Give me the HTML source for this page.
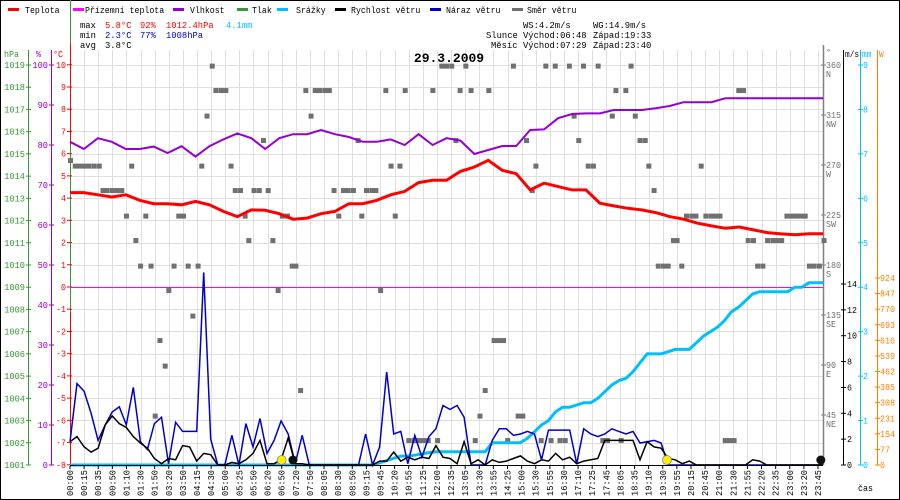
<!DOCTYPE html>
<html><head><meta charset="utf-8"><style>
html,body{margin:0;padding:0;background:#fff;}
svg{display:block;font-family:"Liberation Mono",monospace;}
</style></head><body>
<svg id="chart" width="900" height="500" viewBox="0 0 900 500" xmlns="http://www.w3.org/2000/svg"></svg>
<script>
// ---- data ----
const timeLabels=["00:00","00:15","00:35","00:50","01:10","01:30","01:50","03:20","03:50","04:15","04:30","05:00","05:25","05:50","06:20","06:50","07:20","07:50","08:05","08:30","08:50","09:15","09:45","10:20","10:55","11:25","12:00","12:35","13:05","13:30","13:55","14:25","15:00","15:30","15:55","16:30","17:10","17:25","17:45","18:05","18:35","19:10","19:30","19:55","20:15","20:45","21:00","21:30","21:55","22:20","22:35","23:00","23:20","23:45"];
const tempValues=[4.25,4.25,4.15,4.05,4.15,3.9,3.75,3.75,3.7,3.85,3.7,3.4,3.17,3.47,3.45,3.3,3.05,3.1,3.3,3.4,3.75,3.75,3.9,4.15,4.3,4.7,4.8,4.8,5.2,5.4,5.7,5.25,5.1,4.37,4.67,4.52,4.37,4.37,3.77,3.65,3.54,3.47,3.35,3.17,3.05,2.87,2.75,2.64,2.7,2.57,2.45,2.39,2.35,2.4,2.4];
const humidityValues=[80.8,79,81.7,80.8,79,79,79.6,78,79.7,77.1,79.7,81.4,82.9,81.7,79,81.7,82.7,82.7,83.75,82.7,82,80.8,80.8,81.4,80,82.7,80,81.7,81.1,77.75,78.75,79.75,79.75,83.75,83.9,86.7,87.75,87.9,87.9,88.75,88.75,88.75,89.2,89.75,90.7,90.7,90.7,91.7,91.7,91.7,91.7,91.7,91.7,91.7,91.7];
const gustValues=[1.8,6.3,5.7,4.0,1.9,3.1,4.1,4.5,3.1,6.0,1.8,1.2,3.2,3.7,0.1,3.3,2.6,2.6,2.6,14.9,2.0,0,0,2.3,0,3.2,1.4,3.6,0.9,1.9,3.4,2.4,0.1,2.3,0,0,0,0,0,0,0,0,2.4,0,1.4,7.2,2.4,2.6,0.1,2.3,0.6,2.2,2.8,4.6,4.3,4.6,3.7,0,0,0,1.9,2.8,2.8,2.3,2.4,2.6,2.4,0.4,2.7,2.7,2.7,2.7,0.1,2.8,2.4,2.2,2.4,2.8,2.6,2.4,2.6,1.7,1.8,1.9,1.7,0,0,0,0,0,0,0,0,0,0,0,0,0,0,0,0,0,0,0,0,0,0,0];
const speedValues=[1.8,2.2,1.4,1.0,1.3,3.1,3.8,3.2,2.9,2.2,1.7,1.3,0.5,0.1,0.5,0.4,1.5,1.4,0.3,0.9,0.8,0,0,0.2,0.1,0.4,0.9,1.9,0.1,0.1,0.4,2.1,0.1,0.1,0,0,0,0,0,0,0,0,0,0,0.3,0.3,1.0,0.3,0.6,0.4,0.6,0.5,1.5,0.6,0.5,0.1,1.8,0.1,0.4,0,0.4,0.2,0.3,0.5,0.7,0.3,0.1,0.4,0.3,0.9,0.4,0.6,0.1,0.3,0.4,0.5,1.9,1.9,1.9,1.9,1.9,0.4,1.8,1.4,1.3,0.5,0.4,0.1,0.3,0,0,0,0,0,0,0,0,0.4,0.3,0,0,0,0,0,0,0,0,0];
const rainValues=[0,0,0,0,0,0,0,0,0,0,0,0,0,0,0,0,0,0,0,0,0,0,0,0,0,0,0,0,0,0,0,0,0,0,0,0,0,0,0,0,0,0,0,0,0.05,0.1,0.15,0.2,0.2,0.22,0.25,0.28,0.3,0.3,0.3,0.3,0.3,0.3,0.3,0.3,0.5,0.5,0.5,0.5,0.5,0.6,0.75,0.9,1.0,1.2,1.3,1.3,1.35,1.4,1.4,1.5,1.65,1.8,1.9,1.95,2.1,2.3,2.5,2.5,2.5,2.55,2.6,2.6,2.6,2.75,2.9,3.0,3.1,3.25,3.45,3.55,3.7,3.85,3.9,3.9,3.9,3.9,3.9,4.0,4.0,4.1,4.1,4.1];
const dirMinutes=[1,10,18,27,36,46,56,63,71,81,90,99,108,118,126,135,145,155,163,172,182,189,199,208,217,226,235,245,252,262,272,279,289,298,308,316,326,335,342,352,362,370,379,388,398,406,416,425,432,441,451,461,469,478,488,496,505,514,523,532,542,551,558,567,577,585,594,604,614,622,631,641,648,658,667,676,685,694,703,711,720,730,738,746,757,767,775,784,794,801,811,820,829,837,848,857,866,873,884,891,901,910,920,928,937,947,955,964,973,982,991,1001,1010,1019,1028,1037,1044,1054,1063,1073,1081,1090,1100,1107,1117,1125,1135,1144,1154,1161,1170,1179,1189,1197,1207,1216,1226,1235,1243,1253,1262,1270,1279,1288,1297,1307,1315,1325,1334,1344,1353,1361,1371,1380,1388,1397,1406,1414,1423,1433,1442];
const dirDegrees=[274,269,269,269,269,269,269,247,247,247,247,247,224,269,202,179,224,179,44,112,89,157,179,224,224,179,134,179,269,314,359,337,337,337,269,247,247,224,202,247,247,292,247,202,157,224,224,179,179,67,337,314,337,337,337,337,247,224,247,247,247,292,224,247,247,247,157,337,269,224,269,337,22,22,22,22,22,337,22,359,359,359,292,337,359,337,22,44,67,337,112,112,112,22,359,44,44,292,247,269,22,359,22,359,22,22,359,314,292,359,269,269,359,22,22,314,337,22,337,359,314,292,292,269,247,179,179,179,202,202,179,224,224,224,269,224,224,224,224,22,22,22,337,337,202,202,179,179,202,202,202,202,224,224,224,224,224,179,179,179,202];
const hpaTicks=[1019,1018,1017,1016,1015,1014,1013,1012,1011,1010,1009,1008,1007,1006,1005,1004,1003,1002,1001];
const pctTicks=[100,90,80,70,60,50,40,30,20,10,0];
const degCTicks=[10,9,8,7,6,5,4,3,2,1,0,-1,-2,-3,-4,-5,-6,-7,-8];
const dirTicks=[360,315,270,225,180,135,90,45];
const dirNames=["N","NW","W","SW","S","SE","E","NE"];
const msTicks=[0,2,4,6,8,10,12,14];
const mmTicks=[0,1,2,3,4,5,6,7,8,9];
const wTicks=[0,77,154,231,308,385,462,539,616,693,770,847,924];
const sunCat=[15,42.3];
const moonCat=[15.8,53.2];

// ---- scales ----
const X0=70,X1=823,YB=465,YT=50;
const xCat=k=>X0+k*(748/53);
const xSeries=(i,n)=>X0+i*(X1-X0)/(n-1);
const xMin=m=>X0+m*(X1-X0)/1440;
const yC=t=>287-t*(400/18);
const yH=h=>YB-h*4;
const yP=p=>YB-(p-1001)*(400/18);
const yMS=v=>YB-v*(181/14);
const yMM=v=>YB-v*(400/9);
const yW=v=>YB-v*(187/924);
const yDir=d=>YB-d*(400/360);

const NS="http://www.w3.org/2000/svg";
const svg=document.getElementById('chart');
function mk(tag,attrs,parent){const e=document.createElementNS(NS,tag);for(const k in attrs)e.setAttribute(k,attrs[k]);(parent||svg).appendChild(e);return e;}
function txt(s,x,y,fill,anchor,size,parent,cw){const t=mk('text',{x:x,y:y,fill:fill,'text-anchor':anchor||'start','font-size':size||9},parent);t.textContent=s;
if(cw){t.setAttribute('textLength',(s.length*cw).toFixed(1));t.setAttribute('lengthAdjust','spacingAndGlyphs');}return t;}

let bg=mk('rect',{x:0.5,y:0.5,width:899,height:499,fill:'#fff',stroke:'#000','stroke-width':1});



const grid=mk('g',{stroke:'#e2dede','stroke-width':1});


for(let k=0;k<timeLabels.length;k++){const x=Math.round(xCat(k))+0.5;mk('line',{x1:x,y1:YT,x2:x,y2:YB},grid);}
degCTicks.forEach(t=>{const y=Math.round(yC(t))+0.5;mk('line',{x1:X0,y1:y,x2:X1,y2:y},grid);});

const legend=mk('g',{});


const legItems=[["Teplota","#ff0000",8,25],["Přízemní teplota","#ff00ff",73,85],["Vlhkost","#9400d3",173,190],["Tlak","#339933",237,252],["Srážky","#00bfff",277,296],["Rychlost větru","#000000",335,351],["Náraz větru","#0000cc",430,446],["Směr větru","#707070",512,527]];
legItems.forEach(it=>{const g=mk('g',{},legend);


mk('rect',{x:it[2],y:8,width:11,height:3,fill:it[1]},g);txt(it[0],it[3],13,'#000','start',9,g,4.95);});

const stats=mk('g',{});


[["max",80,28,"#000"],["5.8°C",105,28,"#ff0000"],["92%",140,28,"#ff0000"],["1012.4hPa",166,28,"#ff0000"],["4.1mm",226,28,"#00bfff"],
 ["min",80,38,"#000"],["2.3°C",105,38,"#0000cc"],["77%",140,38,"#0000cc"],["1008hPa",166,38,"#0000cc"],
 ["avg",80,48,"#000"],["3.8°C",105,48,"#000"],
 ["WS:4.2m/s",523,28,"#000"],["WG:14.9m/s",593,28,"#000"],
 ["Slunce",486,38,"#000"],["Východ:06:48",523,38,"#000"],["Západ:19:33",593,38,"#000"],
 ["Měsíc",491,48,"#000"],["Východ:07:29",523,48,"#000"],["Západ:23:40",593,48,"#000"]].forEach(s=>{txt(s[0],s[1],s[2],s[3],'start',9,stats,5.3);});

const title=txt("29.3.2009",449,62,'#000','middle',13);
title.setAttribute('font-weight','bold');



const lax=mk('g',{});


mk('line',{x1:28.5,y1:50,x2:28.5,y2:YB,stroke:'#339933'},lax);
mk('line',{x1:51.5,y1:50,x2:51.5,y2:YB,stroke:'#9400d3'},lax);
mk('line',{x1:70.5,y1:0,x2:70.5,y2:312,stroke:'#339933'},lax);
mk('line',{x1:70.5,y1:43,x2:70.5,y2:145,stroke:'#ff0000'},lax);
mk('line',{x1:70.5,y1:312,x2:70.5,y2:YB,stroke:'#ff0000'},lax);
txt("hPa",4,57,'#339933','start',9,lax,5);txt("%",36,57,'#9400d3','start',9,lax,5);txt("°C",53,57,'#ff0000','start',9,lax,5);
hpaTicks.forEach(v=>{const y=yP(v);mk('line',{x1:26,y1:y,x2:31,y2:y,stroke:'#339933'},lax);txt(String(v),25,y+3,'#339933','end',9,lax,5.2);});
pctTicks.forEach(v=>{const y=yH(v);mk('line',{x1:49,y1:y,x2:54,y2:y,stroke:'#9400d3'},lax);txt(String(v),48,y+3,'#9400d3','end',9,lax,5.2);});
degCTicks.forEach(v=>{const y=yC(v);mk('line',{x1:67,y1:y,x2:72,y2:y,stroke:'#ff0000'},lax);txt(String(v),66,y+3,'#ff0000','end',9,lax,5);});

const rax=mk('g',{});


mk('line',{x1:823.5,y1:45,x2:823.5,y2:YB,stroke:'#808080','stroke-width':1.5},rax);
mk('line',{x1:843.5,y1:50,x2:843.5,y2:YB,stroke:'#000'},rax);
mk('line',{x1:860.5,y1:50,x2:860.5,y2:YB,stroke:'#00bfff'},rax);
mk('line',{x1:877.5,y1:50,x2:877.5,y2:YB,stroke:'#ff8000'},rax);
txt("°",826,55,'#707070','start',9,rax);txt("m/s",845,57,'#000','start',9,rax,4.7);txt("mm",862,57,'#00bfff','start',9,rax,4.7);txt("W",879,57,'#ff8000','start',9,rax,4.7);
dirTicks.forEach((v,i)=>{const y=yDir(v);mk('line',{x1:821,y1:y,x2:826,y2:y,stroke:'#808080'},rax);txt(String(v),826,y+3,'#707070','start',9,rax,5);txt(dirNames[i],826,y+12,'#707070','start',9,rax,5);});
msTicks.forEach(v=>{const y=yMS(v);mk('line',{x1:841,y1:y,x2:846,y2:y,stroke:'#000'},rax);txt(String(v),847,y+3,'#000','start',9,rax,5);});
mmTicks.forEach(v=>{const y=yMM(v);mk('line',{x1:858,y1:y,x2:863,y2:y,stroke:'#00bfff'},rax);txt(String(v),863,y+3,'#00bfff','start',9,rax,5);});
wTicks.forEach(v=>{const y=yW(v);mk('line',{x1:875,y1:y,x2:880,y2:y,stroke:'#ff8000'},rax);txt(String(v),880,y+3,'#ff8000','start',9,rax,5);});

const zl=mk('line',{x1:X0,y1:287.5,x2:X1,y2:287.5,stroke:'#ff00ff','stroke-width':1});



const dirG=mk('g',{fill:'#707070'});


for(let i=0;i<dirMinutes.length;i++){const r=mk('rect',{x:xMin(dirMinutes[i])-2.5,y:yDir(dirDegrees[i])-2.5,width:5,height:5},dirG);

}

function poly(vals,ys,color,w,name){const pts=vals.map((v,i)=>xSeries(i,vals.length).toFixed(1)+','+ys(v).toFixed(1)).join(' ');
const p=mk('polyline',{points:pts,fill:'none',stroke:color,'stroke-width':w,'stroke-linejoin':'miter'});

return p;}
poly(rainValues,yMM,'#00bfff',3,'rain-line');
poly(gustValues,yMS,'#0000cc',1.5,'wind-gust-line');
poly(speedValues,yMS,'#000000',1.5,'wind-speed-line');
poly(humidityValues,yH,'#9400d3',2,'humidity-line');
poly(tempValues,yC,'#ff0000',3,'temperature-line');

const xa=mk('g',{});


mk('line',{x1:X0,y1:465.5,x2:X1,y2:465.5,stroke:'#000'},xa);
timeLabels.forEach((s,k)=>{const x=xCat(k);mk('line',{x1:x,y1:466,x2:x,y2:469,stroke:'#000'},xa);
const t=txt(s,0,0,'#000','end',9,xa,5.2);t.setAttribute('transform','translate('+(x+3).toFixed(1)+',470) rotate(-90)');});
txt("čas",858,491,'#000','start',9,xa,5);

sunCat.forEach(k=>{const c=mk('circle',{cx:xCat(k),cy:460,r:4.5,fill:'#ffee00',stroke:'#888','stroke-width':0.8});

});
moonCat.forEach(k=>{const c=mk('circle',{cx:xCat(k),cy:460,r:4.5,fill:'#111'});

});
</script>
</body></html>
